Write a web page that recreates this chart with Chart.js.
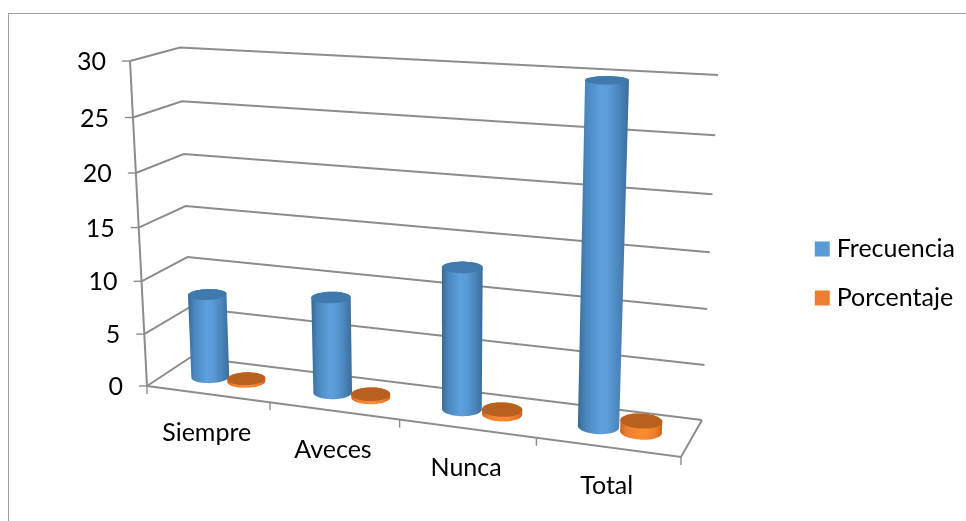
<!DOCTYPE html>
<html><head><meta charset="utf-8">
<script src="https://cdn.jsdelivr.net/npm/chart.js@4"></script>
<style>html,body{margin:0;padding:0;background:#fff;overflow:hidden}
#w{position:relative;width:966px;height:521px}
#frame{position:absolute;left:8px;top:13px;width:970px;height:520px;border:1.5px solid #a0a0a0;box-sizing:border-box}
canvas{position:absolute;left:0;top:0}</style></head>
<body><div id="w"><div id="frame"></div><canvas id="c" width="966" height="521"></canvas></div>
<script>
const categories = ["Siempre", "Aveces", "Nunca", "Total"];
const frecuencia = [8, 9, 13, 30];
const porcentaje = [0.27, 0.3, 0.43, 1];
const yTicks = [0, 5, 10, 15, 20, 25, 30];
const FONT = 'Lato, Carlito, sans-serif';

// Corners of the 3D box on screen, [u=0/1, value=0/1] in the front and back planes
const frontQuad = [[147,386],[681,457],[693,97],[130,61]];
const backQuad  = [[191,357],[702,420],[718,75],[180,47.5]];

function homography(q){
  const [[x0,y0],[x1,y1],[x2,y2],[x3,y3]] = q;
  const dx1=x1-x2, dx2=x3-x2, dx3=x0-x1+x2-x3, dy1=y1-y2, dy2=y3-y2, dy3=y0-y1+y2-y3;
  const den=dx1*dy2-dx2*dy1;
  const g=(dx3*dy2-dx2*dy3)/den, h=(dx1*dy3-dx3*dy1)/den;
  const a=x1-x0+g*x1, b=x3-x0+h*x3, d=y1-y0+g*y1, e=y3-y0+h*y3;
  return (u,v)=>{const w=g*u+h*v+1;return [(a*u+b*v+x0)/w,(d*u+e*v+y0)/w];};
}
const F=homography(frontQuad), B=homography(backQuad);
function P(u,v,d){const f=F(u,v),b=B(u,v);return [f[0]+(b[0]-f[0])*d,f[1]+(b[1]-f[1])*d];}

function hull(pts){
  const p=pts.slice().sort((a,b)=>a[0]-b[0]||a[1]-b[1]);
  const cr=(o,a,b)=>(a[0]-o[0])*(b[1]-o[1])-(a[1]-o[1])*(b[0]-o[0]);
  const lo=[],up=[];
  for(const q of p){while(lo.length>1&&cr(lo[lo.length-2],lo[lo.length-1],q)<=0)lo.pop();lo.push(q);}
  for(const q of p.slice().reverse()){while(up.length>1&&cr(up[up.length-2],up[up.length-1],q)<=0)up.pop();up.push(q);}
  return lo.slice(0,-1).concat(up.slice(0,-1));
}
function poly(ctx,pts){ctx.beginPath();pts.forEach((q,i)=>i?ctx.lineTo(q[0],q[1]):ctx.moveTo(q[0],q[1]));ctx.closePath();}
function line(ctx,pts){ctx.beginPath();pts.forEach((q,i)=>i?ctx.lineTo(q[0],q[1]):ctx.moveTo(q[0],q[1]));ctx.stroke();}

const palette=[
 {side:['#376894','#4a86bd','#5da0de','#5a9bd6','#4780b5','#3a6c9b'],top:'#4079ad'},
 {side:['#c9651f','#ed7d31','#fd8a2e','#fb8a30','#ec7a28','#c9651f'],top:'#b86020'}
];
const DEPTH_R=0.2, MID=0.5;

const scene={
  id:'scene',
  beforeDatasetsDraw(chart){
    const ctx=chart.ctx, xs=chart.scales.x, ys=chart.scales.y;
    const U=px=>(px-xs.left)/xs.width, V=val=>(ys.bottom-ys.getPixelForValue(val))/ys.height;
    ctx.save();
    ctx.strokeStyle='#8c8c8c';ctx.lineWidth=2;ctx.lineJoin='miter';
    ctx.font='25px '+FONT;ctx.fillStyle='#000';
    yTicks.forEach(t=>{
      const v=V(t),a=P(0,v,0),b=P(0,v,1),c=P(1,v,1);
      line(ctx,[a,b,c]);
      ctx.save();ctx.lineWidth=1.4;line(ctx,[[a[0]-8,a[1]],a]);ctx.restore();
      ctx.textAlign='right';ctx.textBaseline='middle';
      ctx.fillText(String(t),a[0]-24,a[1]+1);
    });
    line(ctx,[P(0,V(0),0),P(0,V(30),0)]);
    line(ctx,[P(0,0,0),P(1,0,0),P(1,0,1)]);
    for(let i=0;i<=categories.length;i++){
      const q=P(i/categories.length,0,0);
      ctx.save();ctx.lineWidth=1.4;line(ctx,[q,[q[0],q[1]+8]]);ctx.restore();
    }
    categories.forEach((c,i)=>{
      const q=P(U(xs.getPixelForValue(i)),0,0);
      ctx.textAlign='center';ctx.textBaseline='middle';
      ctx.fillText(c,q[0]-1,q[1]+39);
    });
    categories.forEach((c,i)=>{
      chart.data.datasets.forEach((ds,di)=>{
        const el=chart.getDatasetMeta(di).data[i];
        const uc=U(el.x), r=(el.width/xs.width)/2, vt=V(ds.data[i]), vb=V(0);
        const ring=v=>{const o=[];for(let k=0;k<48;k++){const t=k/48*Math.PI*2;o.push(P(uc+r*Math.cos(t),v,MID+DEPTH_R*Math.sin(t)));}return o;};
        const bot=ring(vb), top=ring(vt), all=hull(bot.concat(top));
        const minX=Math.min(...all.map(q=>q[0])), maxX=Math.max(...all.map(q=>q[0]));
        const g=ctx.createLinearGradient(minX,0,maxX,0);
        const col=palette[di];
        [0,.15,.45,.6,.85,1].forEach((s,k)=>g.addColorStop(s,col.side[k]));
        ctx.fillStyle=g;poly(ctx,all);ctx.fill();
        ctx.fillStyle=col.top;poly(ctx,top);ctx.fill();
      });
    });
    ctx.restore();
    return false;
  }
};

new Chart(document.getElementById('c'),{
  type:'bar',
  data:{labels:categories,datasets:[
    {label:'Frecuencia',data:frecuencia,backgroundColor:'#5b9bd5',borderWidth:0},
    {label:'Porcentaje',data:porcentaje,backgroundColor:'#ed7d31',borderWidth:0}
  ]},
  options:{
    responsive:false,animation:false,
    layout:{padding:{left:147,top:26,right:1,bottom:0}},
    datasets:{bar:{categoryPercentage:0.6,barPercentage:0.95}},
    scales:{
      x:{display:false},
      y:{display:false,min:0,max:30,ticks:{stepSize:5}}
    },
    plugins:{
      tooltip:{enabled:false},
      legend:{display:true,position:'right',
        labels:{usePointStyle:true,pointStyle:'rect',boxWidth:4,boxHeight:15,padding:24,color:'#000',font:{family:FONT,size:25}}}
    }
  },
  plugins:[scene]
});
</script></body></html>
